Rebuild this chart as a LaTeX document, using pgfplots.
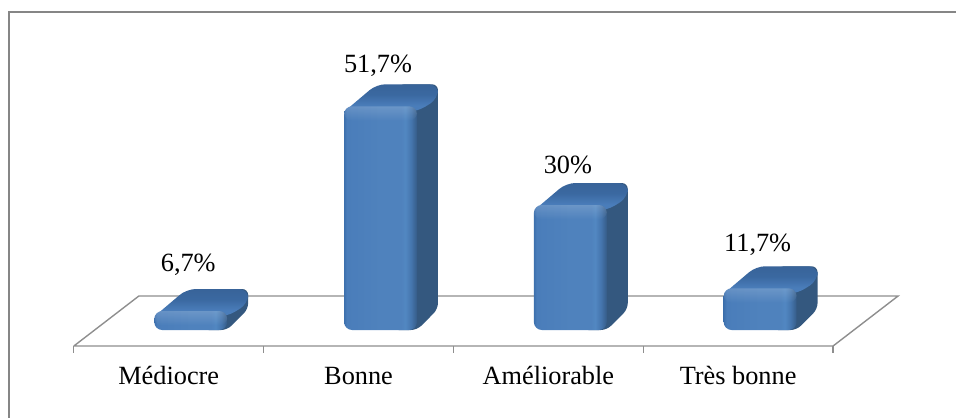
\documentclass[border=0pt]{standalone}
\usepackage{pgfplots}
\pgfplotsset{compat=1.18}
\usepackage{fontspec}
\setmainfont{Liberation Serif}
\usetikzlibrary{fadings}
\definecolor{framegray}{HTML}{868686}
\definecolor{floorgray}{HTML}{8E8E8E}
\definecolor{sideface}{HTML}{34587F}
\pgfdeclarehorizontalshading{frontface}{100bp}{
  rgb(0bp)=(0.22,0.42,0.66);
  rgb(25bp)=(0.24,0.44,0.68);
  rgb(27bp)=(0.29,0.49,0.73);
  rgb(50bp)=(0.31,0.51,0.74);
  rgb(64bp)=(0.31,0.51,0.74);
  rgb(67bp)=(0.32,0.53,0.76);
  rgb(71bp)=(0.27,0.46,0.68);
  rgb(75bp)=(0.21,0.36,0.53);
  rgb(100bp)=(0.21,0.36,0.53)}
\pgfdeclareverticalshading{topface}{100bp}{
  rgb(0bp)=(0.29,0.49,0.73);
  rgb(36bp)=(0.29,0.49,0.73);
  rgb(56bp)=(0.23,0.41,0.63);
  rgb(75bp)=(0.22,0.39,0.60);
  rgb(100bp)=(0.22,0.39,0.60)}
% pixel sizes of the box drawn around a bar, as axis units
\pgfmathsetmacro{\ux}{1/189.8}
\pgfmathsetmacro{\uy}{1/4.55}
\tikzset{textstyle/.style={font=\fontsize{26.3}{26.3}\selectfont}}
% #1 category position, #2 value in percent
\newcommand{\boxbar}[2]{%
  \pgfmathsetmacro{\xl}{#1-14.5*\ux}%
  \pgfmathsetmacro{\xr}{#1+58.5*\ux}%
  \pgfmathsetmacro{\xm}{#1+22*\ux}%
  \pgfmathsetmacro{\xb}{#1+79.5*\ux}%
  \pgfmathsetmacro{\xbl}{#1+40*\ux}%
  \pgfmathsetmacro{\xtl}{#1+18*\ux}%
  \pgfmathsetmacro{\ybase}{8*\uy}%
  \pgfmathsetmacro{\ybb}{29*\uy}%
  \pgfmathsetmacro{\ytop}{#2-3.5*\uy}%
  \pgfmathsetmacro{\ylow}{#2-9*\uy}%
  \pgfmathsetmacro{\yback}{#2+18.5*\uy}%
  \pgfmathsetmacro{\ybs}{#2+4*\uy}%
  \pgfmathsetmacro{\yband}{#2-18*\uy}%
  \pgfmathsetmacro{\xhl}{#1+48*\ux}%
  \pgfmathsetmacro{\xhr}{#1+58*\ux}%
  \pgfmathsetmacro{\yhb}{#2-10*\uy}%
  \pgfmathsetmacro{\yht}{#2-4*\uy}%
  % receding side, reaching under the front face
  \addplot[draw=none,fill=sideface,rounded corners=6pt] coordinates
    {(\xbl,\ybase) (\xr,\ybase) (\xb,\ybb) (\xb,\yback) (\xbl,\yback) (\xbl,\ybase)};
  % top face
  \addplot[draw=none,shading=topface,rounded corners=9pt] coordinates
    {(\xm,\ylow) (\xl,\ylow) (\xtl,\yback) (\xb,\yback) (\xb,\ybs) (\xr,\ylow) (\xm,\ylow)};
  % front face
  \addplot[draw=none,shading=frontface,rounded corners=8pt] coordinates
    {(\xm,\ybase) (\xl,\ybase) (\xl,\ytop) (\xr,\ytop) (\xr,\ybase) (\xm,\ybase)};
  % soft light along the upper edge of the front face
  \addplot[draw=none,fill=white,fill opacity=0.16,path fading=south,rounded corners=8pt] coordinates
    {(\xm,\yband) (\xl,\yband) (\xl,\ytop) (\xr,\ytop) (\xr,\yband) (\xm,\yband)};
  % small highlight at the upper right corner of the front face
  \addplot[draw=none,fill=white,fill opacity=0.3,path fading=fuzzy ring 15 percent,rounded corners=2pt] coordinates
    {(\xhl,\yhb) (\xhl,\yht) (\xhr,\yht) (\xhr,\yhb) (\xhl,\yhb)};
}
% #1 position, #2 value, #3 lift of the text above the bar
\newcommand{\valuelabel}[3]{%
  \addplot[only marks,mark=none,point meta=explicit,
    nodes near coords={\pgfmathprintnumber[use comma,assume math mode=true]{\pgfplotspointmeta}\%},
    nodes near coords style={textstyle,anchor=center,yshift=#3pt,xshift=19.5pt}]
    coordinates {(#1,#2) [#2]};
}
\begin{document}
\begin{tikzpicture}
\begin{axis}[
  scale only axis,width=957pt,height=419pt,
  xmin=-0.8891,xmax=4.1531,ymin=-17.80,ymax=74.29,
  hide axis,clip=false]
\path (rel axis cs:0,0) rectangle (rel axis cs:1,1);
% outer frame, left and top sides, stopping just short of the page edge
\addplot[framegray,line width=2pt] coordinates
  {(-0.8443,-17.5) (-0.8443,71.76) (4.147,71.76)};
% floor and tick marks
\addplot[floorgray,line width=1.4pt] coordinates
  {(-0.5,-1.76) (3.5,-1.76) (3.8425,9.23) (-0.1575,9.23) (-0.5,-1.76)};
\addplot[floorgray,line width=1.2pt] coordinates {(-0.5,-1.76) (-0.5,-3.2)};
\addplot[floorgray,line width=1.2pt] coordinates {(0.5,-1.76) (0.5,-3.2)};
\addplot[floorgray,line width=1.2pt] coordinates {(1.5,-1.76) (1.5,-3.2)};
\addplot[floorgray,line width=1.2pt] coordinates {(2.5,-1.76) (2.5,-3.2)};
\addplot[floorgray,line width=1.2pt] coordinates {(3.5,-1.76) (3.5,-3.2)};
% bars
\boxbar{0}{6.7}
\boxbar{1}{51.7}
\boxbar{2}{30}
\boxbar{3}{11.7}
% value labels
\valuelabel{0}{6.7}{42.5}
\valuelabel{1}{51.7}{36.5}
\valuelabel{2}{30}{36.5}
\valuelabel{3}{11.7}{40}
% category names
\node[textstyle] at (axis cs:0,-8.3) {Médiocre};
\node[textstyle] at (axis cs:1,-8.3) {Bonne};
\node[textstyle] at (axis cs:2,-8.3) {Améliorable};
\node[textstyle] at (axis cs:3,-8.3) {Très bonne};
\end{axis}
\end{tikzpicture}
\end{document}
